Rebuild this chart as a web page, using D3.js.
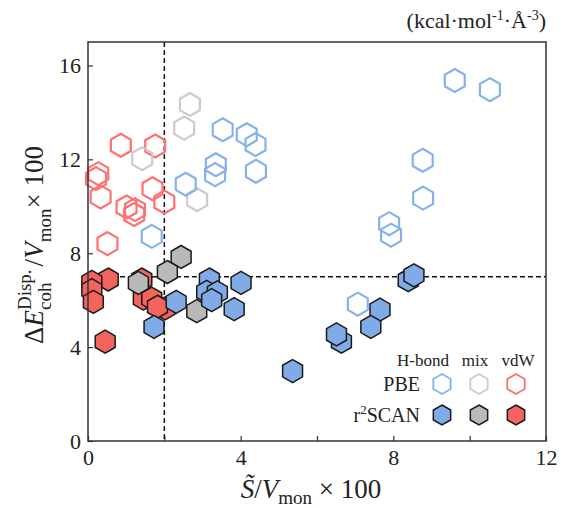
<!DOCTYPE html>
<html lang="en">
<head>
    <meta charset="UTF-8">
    <title>Dispersion cohesive energy vs surface</title>
    <script src="https://d3js.org/d3.v7.min.js"></script>
    <style>
        body { margin: 0; background: #fff; }
        text { font-family: "Liberation Serif", "Times New Roman", serif; fill: #222; }
    </style>
</head>
<body>
    <svg width="561" height="508"></svg>

    <script>
        // Data: [S/Vmon*100, dE/Vmon*100]
        const pbeHbond = [[9.61, 15.36], [10.53, 14.97], [3.53, 13.26], [4.16, 13.05], [4.39, 12.63],
            [3.35, 11.77], [3.33, 11.35], [4.40, 11.49], [2.56, 10.94], [1.67, 8.72],
            [8.77, 11.96], [8.78, 10.35], [7.89, 9.26], [7.94, 8.77], [7.07, 5.83]];
        const pbeMix = [[2.67, 14.34], [2.52, 13.33], [1.42, 12.03], [2.86, 10.28]];
        const pbeVdw = [[0.86, 12.6], [1.76, 12.57], [0.27, 11.39], [0.21, 11.18], [0.33, 10.4],
            [1.69, 10.75], [2.0, 10.18], [1.01, 9.97], [1.23, 9.86], [1.21, 9.65], [0.51, 8.41]];
        const r2Hbond = [[2.31, 5.93], [1.73, 4.86], [3.18, 6.88], [3.11, 6.35], [3.39, 6.33],
            [3.24, 6.0], [4.01, 6.74], [3.83, 5.62], [8.39, 6.85], [8.54, 7.06], [7.65, 5.60],
            [7.41, 4.86], [6.64, 4.23], [6.51, 4.54], [5.36, 2.98]];
        const r2Mix = [[2.44, 7.84], [2.08, 7.2], [1.32, 6.74], [2.85, 5.53]];
        const r2Vdw = [[0.53, 6.88], [0.10, 6.78], [0.10, 6.43], [0.14, 5.93], [1.41, 6.88],
            [1.45, 6.07], [1.67, 6.07], [2.02, 5.65], [1.82, 5.72], [0.45, 4.23]];

        const xTicks = [0, 4, 8, 12];
        const xMinorTicks = [2, 6, 10];
        const yTicks = [0, 4, 8, 12, 16];
        const thresholdX = 2;
        const thresholdY = 7;
        const legendCols = ["H-bond", "mix", "vdW"];
        const legendRows = ["PBE", "r2SCAN"];

        const colors = {blueLine: "#86b2ec", blueFill: "#80abe6", grayLine: "#cbcbcb", grayFill: "#b9b9b9",
            redLine: "#ff7070", redFill: "#f4645e"};

        const margin = {top: 42, right: 15, bottom: 68, left: 88};
        const width = 561, height = 508;

        const svg = d3.select("svg");

        const x = d3.scaleLinear().domain([0, 12]).range([margin.left, width - margin.right]);
        const y = d3.scaleLinear().domain([0, 17]).range([height - margin.bottom + 1, margin.top]);

        // hexagon with a vertex on top
        function hexPath(r) {
            const pts = d3.range(6).map(i => {
                const a = (-90 + 60 * i) * Math.PI / 180;
                return [r * Math.cos(a), r * Math.sin(a)];
            });
            return "M" + pts.map(p => p.join(",")).join("L") + "Z";
        }

        // axes with inward ticks
        svg.append("g")
            .attr("transform", `translate(0,${y(0)})`)
            .call(d3.axisBottom(x).tickValues(xTicks).tickSize(-5).tickPadding(8).tickFormat(d3.format("d")));
        svg.append("g")
            .attr("transform", `translate(0,${y(0)})`)
            .call(d3.axisBottom(x).tickValues(xMinorTicks).tickSize(-5).tickFormat(""));
        svg.append("g")
            .attr("transform", `translate(${margin.left},0)`)
            .call(d3.axisLeft(y).tickValues(yTicks).tickSize(-5).tickPadding(7).tickFormat(d3.format("d")));

        svg.selectAll(".tick text")
            .style("font-size", "22px")
            .style("font-family", "'Liberation Serif', serif")
            .attr("fill", "#222");
        svg.selectAll(".tick line").attr("stroke", "#333").attr("stroke-width", 1.2);
        svg.selectAll(".domain").remove();

        // threshold lines
        svg.append("line")
            .attr("x1", x(thresholdX)).attr("x2", x(thresholdX))
            .attr("y1", y(17)).attr("y2", y(0))
            .attr("stroke", "#111").attr("stroke-width", 1.5).attr("stroke-dasharray", "5,3");
        svg.append("line")
            .attr("x1", x(0)).attr("x2", x(12))
            .attr("y1", y(thresholdY)).attr("y2", y(thresholdY))
            .attr("stroke", "#111").attr("stroke-width", 1.5).attr("stroke-dasharray", "5,3");

        const hex = hexPath(11.5);

        function openHex(data, color) {
            svg.append("g").selectAll("path")
                .data(data)
                .enter().append("path")
                .attr("d", hex)
                .attr("transform", d => `translate(${x(d[0])},${y(d[1])})`)
                .attr("fill", "none")
                .attr("stroke", color)
                .attr("stroke-width", 2.2);
        }
        function filledHex(data, color) {
            svg.append("g").selectAll("path")
                .data(data)
                .enter().append("path")
                .attr("d", hex)
                .attr("transform", d => `translate(${x(d[0])},${y(d[1])})`)
                .attr("fill", color)
                .attr("stroke", "#1a1a1a")
                .attr("stroke-width", 1.5);
        }

        openHex(pbeVdw, colors.redLine);
        openHex(pbeMix, colors.grayLine);
        openHex(pbeHbond, colors.blueLine);
        filledHex(r2Vdw, colors.redFill);
        filledHex(r2Mix, colors.grayFill);
        filledHex(r2Hbond, colors.blueFill);

        // frame
        svg.append("rect")
            .attr("x", x(0)).attr("y", y(17))
            .attr("width", x(12) - x(0)).attr("height", y(0) - y(17))
            .attr("fill", "none").attr("stroke", "#333").attr("stroke-width", 1.5);

        // legend
        const colX = [442, 479, 516];
        const headX = [423, 475, 518];
        const rowY = [384, 415];
        legendCols.forEach((c, i) => {
            svg.append("text").attr("x", headX[i]).attr("y", 366)
                .attr("text-anchor", "middle").style("font-size", "17px").text(c);
        });
        svg.append("text").attr("x", 420).attr("y", rowY[0] + 7)
            .attr("text-anchor", "end").style("font-size", "20px").text(legendRows[0]);
        const r2 = svg.append("text").attr("x", 420).attr("y", rowY[1] + 7)
            .attr("text-anchor", "end").style("font-size", "20px");
        r2.append("tspan").text("r");
        r2.append("tspan").attr("dy", -8).style("font-size", "13px").text("2");
        r2.append("tspan").attr("dy", 8).text("SCAN");

        const legHex = hexPath(10);
        const lineCols = [colors.blueLine, colors.grayLine, colors.redLine];
        const fillCols = [colors.blueFill, colors.grayFill, colors.redFill];
        colX.forEach((cx, i) => {
            svg.append("path").attr("d", legHex).attr("transform", `translate(${cx},${rowY[0]})`)
                .attr("fill", "none").attr("stroke", lineCols[i]).attr("stroke-width", 1.8);
            svg.append("path").attr("d", legHex).attr("transform", `translate(${cx},${rowY[1]})`)
                .attr("fill", fillCols[i]).attr("stroke", "#1a1a1a").attr("stroke-width", 1.5);
        });

        // unit label
        const unit = svg.append("text").attr("x", 546).attr("y", 28)
            .attr("text-anchor", "end").style("font-size", "22px");
        unit.append("tspan").text("(kcal·mol");
        unit.append("tspan").attr("dy", -8).style("font-size", "14px").text("-1");
        unit.append("tspan").attr("dy", 8).text("·Å");
        unit.append("tspan").attr("dy", -8).style("font-size", "14px").text("-3");
        unit.append("tspan").attr("dy", 8).text(")");

        // x axis title: S~/Vmon x 100
        const xt = svg.append("text").attr("x", 311).attr("y", 498)
            .attr("text-anchor", "middle").style("font-size", "27px");
        xt.append("tspan").style("font-style", "italic").text("S\u0303");
        xt.append("tspan").text("/");
        xt.append("tspan").style("font-style", "italic").text("V");
        xt.append("tspan").attr("dy", 6).style("font-size", "19px").text("mon");
        xt.append("tspan").attr("dy", -6).text(" × 100");

        // y axis title, built piece by piece so sup/sub can stack
        const yg = svg.append("g");
        let cursor = 0;
        function piece(txt, size, italic, dy) {
            const t = yg.append("text").attr("x", cursor).attr("y", dy)
                .style("font-size", size + "px")
                .style("font-style", italic ? "italic" : "normal")
                .text(txt);
            return t.node().getComputedTextLength();
        }
        cursor += piece("Δ", 27, false, 0);
        cursor += piece("E", 27, true, 0);
        const wSup = piece("Disp.", 19, false, -12);
        const wSub = piece("coh", 19, false, 8);
        cursor += Math.max(wSup, wSub) + 3;
        cursor += piece("/", 27, false, 0);
        cursor += piece("V", 27, true, 0);
        cursor += piece("mon", 19, false, 8);
        cursor += piece(" × 100", 27, false, 0);
        yg.attr("transform", `translate(43,${245 + cursor / 2}) rotate(-90)`);
    </script>
</body>
</html>
